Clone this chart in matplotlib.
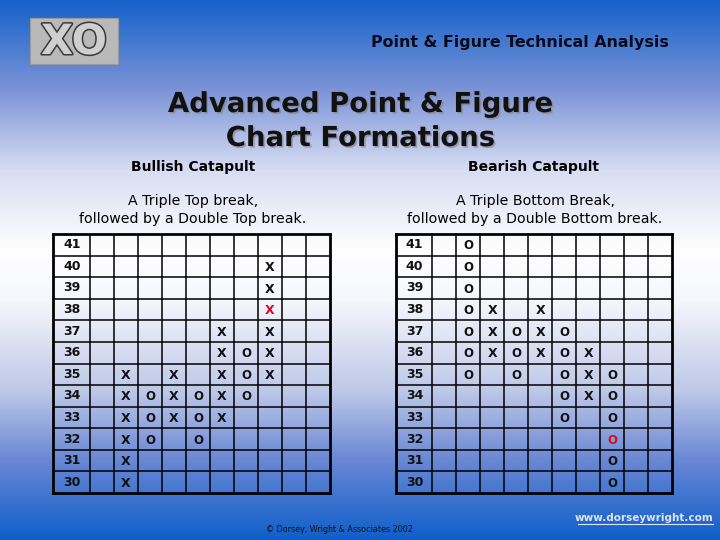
import numpy as np
import matplotlib
matplotlib.use("Agg")
import matplotlib.pyplot as plt
import matplotlib.patheffects as pe
from matplotlib.patches import Rectangle

# price boxes shown on both charts (top to bottom)
PRICES = list(range(41, 29, -1))

# Bullish catapult: column number, symbol, low box, high box
BULL_COLS = [2, 3, 4, 5, 6, 7, 8]
BULL_MARKS = ["X", "O", "X", "O", "X", "O", "X"]
BULL_LOW = [30, 32, 33, 32, 33, 34, 35]
BULL_HIGH = [35, 34, 35, 34, 37, 36, 40]
BULL_SIGNAL = (8, 38)  # the box drawn in red

# Bearish catapult
BEAR_COLS = [2, 3, 4, 5, 6, 7, 8]
BEAR_MARKS = ["O", "X", "O", "X", "O", "X", "O"]
BEAR_LOW = [35, 36, 35, 36, 33, 34, 30]
BEAR_HIGH = [41, 38, 37, 38, 37, 36, 35]
BEAR_SIGNAL = (8, 32)

N_COLS = 10
LABEL_W = 1.53  # width of the price column, in box units

W, H = 720, 540
fig = plt.figure(figsize=(7.2, 5.4), dpi=100)

# --- background: blue -> white -> blue
bg = fig.add_axes([0, 0, 1, 1])
bg.set_xlim(0, W)
bg.set_ylim(H, 0)
bg.axis("off")
stops_y = [0, 90, 170, 250, 300, 390, 460, 540]
stops_c = np.array([
    [20, 98, 202],
    [125, 148, 215],
    [215, 221, 242],
    [255, 255, 255],
    [246, 247, 252],
    [190, 200, 232],
    [105, 135, 212],
    [14, 94, 202],
]) / 255.0
yy = np.arange(H)
grad = np.stack([np.interp(yy, stops_y, stops_c[:, k]) for k in range(3)], axis=-1)
bg.imshow(grad[:, None, :], extent=(0, W, H, 0), aspect="auto", zorder=0)

# logo
bg.add_patch(Rectangle((30, 18), 88, 46, facecolor="#b9b9b9", edgecolor="#9a9a9a", lw=0.8, zorder=1))
bg.text(74, 42, "XO", fontsize=30, fontweight="bold", color="#cfcfcf", ha="center", va="center",
        zorder=2, path_effects=[pe.withStroke(linewidth=2.2, foreground="#3a3a3a")])

bg.text(520, 43, "Point & Figure Technical Analysis", fontsize=11.4, fontweight="bold",
        color="#0a0a1e", ha="center", va="center")

shadow = [pe.SimplePatchShadow(offset=(1.2, -1.2), shadow_rgbFace="#808080", alpha=0.6), pe.Normal()]
bg.text(360, 104, "Advanced Point & Figure", fontsize=19.8, fontweight="bold", color="#111111",
        ha="center", va="center", path_effects=shadow)
bg.text(360, 138, "Chart Formations", fontsize=19.8, fontweight="bold", color="#111111",
        ha="center", va="center", path_effects=shadow)

bg.text(193, 167, "Bullish Catapult", fontsize=10, fontweight="bold", ha="center", va="center")
bg.text(533, 167, "Bearish Catapult", fontsize=10, fontweight="bold", ha="center", va="center")
bg.text(193, 210, "A Triple Top break,\nfollowed by a Double Top break.", fontsize=10.2,
        ha="center", va="center", linespacing=1.3)
bg.text(535, 210, "A Triple Bottom Break,\nfollowed by a Double Bottom break.", fontsize=10.2,
        ha="center", va="center", linespacing=1.3)

bg.text(339, 530, "\u00a9 Dorsey, Wright & Associates 2002", fontsize=5.8, color="#111111",
        ha="center", va="center")
bg.text(713, 518, "www.dorseywright.com", fontsize=7.5, fontweight="bold", color="#dde4f6",
        ha="right", va="center")
bg.plot([578, 713], [524, 524], color="#dde4f6", lw=0.8)


def draw_grid(rect, cols, marks, lows, highs, signal):
    ax = fig.add_axes(rect)
    ax.patch.set_alpha(0)
    x0 = 0.5 - LABEL_W
    ax.set_xlim(x0, N_COLS + 0.5)
    ax.set_ylim(min(PRICES) - 0.5, max(PRICES) + 0.5)
    ax.set_xticks([])
    ax.set_yticks([])
    for s in ax.spines.values():
        s.set_linewidth(2)
        s.set_color("black")
    for c in range(N_COLS):
        ax.axvline(c + 0.5, color="black", lw=1.1)
    for p in PRICES[:-1]:
        ax.axhline(p - 0.5, color="black", lw=1.1)
    for p in PRICES:
        ax.text(x0 + 0.42, p, str(p), fontsize=9, fontweight="bold", color="#111111",
                ha="left", va="center")
    for c, m, lo, hi in zip(cols, marks, lows, highs):
        for p in range(lo, hi + 1):
            color = "#d0101e" if (c, p) == signal else "#111111"
            ax.text(c, p - 0.05, m, fontsize=9 if m == "X" else 8.5, fontweight="bold",
                    color=color, ha="center", va="center")
    return ax


draw_grid([53.3 / W, 1 - 493 / H, (330 - 53.3) / W, (493 - 234) / H],
          BULL_COLS, BULL_MARKS, BULL_LOW, BULL_HIGH, BULL_SIGNAL)
draw_grid([395.7 / W, 1 - 493 / H, (672.3 - 395.7) / W, (493 - 234) / H],
          BEAR_COLS, BEAR_MARKS, BEAR_LOW, BEAR_HIGH, BEAR_SIGNAL)

fig.savefig("out.png", dpi=100)
